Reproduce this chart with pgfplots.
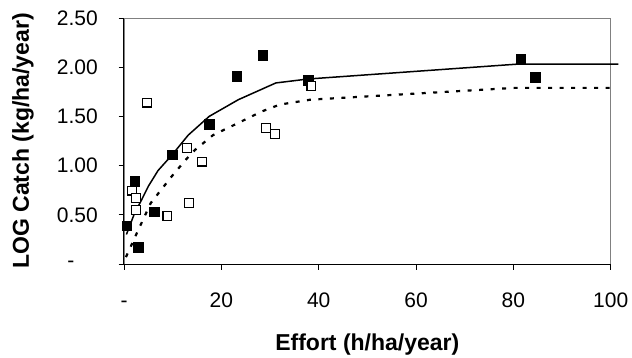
\documentclass[border=0pt]{standalone}
\usepackage{fontspec}
\setmainfont{Liberation Sans}
\usepackage{pgfplots}
\pgfplotsset{compat=1.18}
\begin{document}
\begin{tikzpicture}
\begin{axis}[
  scale only axis, width=486.7bp, height=246bp,
  xmin=0, xmax=100, ymin=0, ymax=2.5,
  clip=false,
  axis line style={draw=gray, line width=0.8bp},
  xtick={0,20,40,60,80,100}, xticklabels={-,20,40,60,80,100},
  ytick={0,0.5,1,1.5,2,2.5}, yticklabels={{-\hphantom{00}},0.50,1.00,1.50,2.00,2.50},
  xtick pos=bottom, ytick pos=left,
  tick align=outside, major tick length=5.5bp,
  tick style={black, line width=0.8bp},
  ticklabel style={font=\fontsize{21bp}{25bp}\selectfont},
  xticklabel style={anchor=base, inner sep=0pt, yshift=-37.5bp},
  yticklabel style={anchor=east, inner sep=0pt, xshift=-20.5bp},
  xlabel={Effort (h/ha/year)}, ylabel={LOG Catch (kg/ha/year)},
  label style={font=\bfseries\fontsize{23bp}{27bp}\selectfont},
  xlabel style={at={(axis description cs:0.5,-0.34959)}, anchor=base, inner sep=0pt},
  ylabel style={at={(axis description cs:-0.19519,0.5)}, anchor=base, inner sep=0pt},
]
\draw[black, line width=1bp] (rel axis cs:0,1) -- (rel axis cs:0,0) -- (rel axis cs:1,0);
% dotted fitted curve
\addplot[black, line width=2.2bp, dash pattern=on 4bp off 7.5bp, mark=none] coordinates {
(0.4,0.07) (2.6,0.31) (5.5,0.62) (9.8,0.89) (12.7,1.06) (14.6,1.16) (18.3,1.31) (22.5,1.41) (28.3,1.55) (32,1.62) (38.3,1.67) (80.3,1.79) (101,1.79)
};
% solid fitted curve
\addplot[black, line width=1.5bp, mark=none] coordinates {
(0.5,0.30) (2.2,0.52) (3.6,0.65) (5.0,0.79) (7.0,0.95) (9.9,1.11) (13.2,1.31) (17.5,1.50) (23.5,1.67) (31.2,1.84) (37.8,1.88) (80.5,2.03) (101.6,2.03)
};
% filled squares
\addplot[only marks, mark=square*, mark size=4.8bp, mark options={draw=black, fill=black, line width=0.5bp}] coordinates {
(0.55,0.39) (2.2,0.84) (2.9,0.17) (6.2,0.53) (9.9,1.11) (17.5,1.42) (23.2,1.91) (28.5,2.12) (37.8,1.87) (81.5,2.08) (84.5,1.90)
};
% open squares
\addplot[only marks, mark=square*, mark size=4.4bp, mark options={draw=black, fill=white, line width=1.2bp}] coordinates {
(1.7,0.745) (2.5,0.67) (2.5,0.55) (4.7,1.64) (8.9,0.49) (13.0,1.18) (13.4,0.62) (16.0,1.04) (29.2,1.38) (31.0,1.32) (38.5,1.81)
};
\end{axis}
\pgfresetboundingbox
\path[use as bounding box] ([shift={(-124bp,-94bp)}]current axis.south west) rectangle ([shift={(508bp,264bp)}]current axis.south west);
\end{tikzpicture}
\end{document}
